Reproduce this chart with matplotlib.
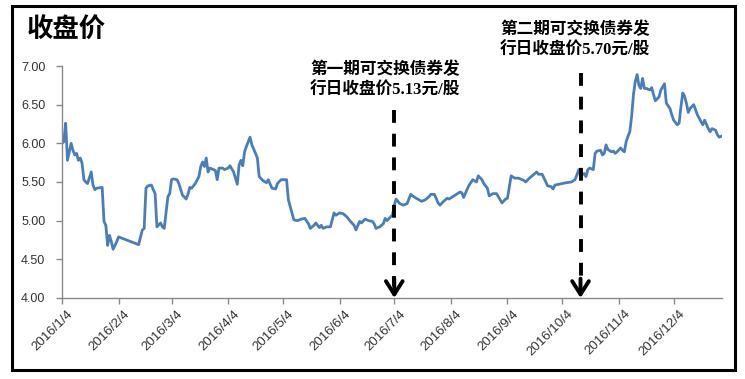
import matplotlib
matplotlib.use('Agg')
import matplotlib.pyplot as plt
import matplotlib.transforms as mtransforms
import pandas as pd
from matplotlib.patches import Rectangle
from matplotlib.ticker import FormatStrFormatter

# ---- data ----
dates = [
    '1/4', '1/5', '1/6', '1/7', '1/9', '1/10', '1/11', '1/12', '1/13', '1/14', '1/15', '1/16', '1/17', '1/18',
    '1/20', '1/21', '1/22', '1/23', '1/26', '1/27', '1/28', '1/29', '1/30', '1/31',
    '2/1', '2/3', '2/4', '2/15', '2/16', '2/17', '2/18', '2/19', '2/20', '2/22', '2/23', '2/24', '2/25',
    '2/27', '2/28', '2/29',
    '3/2', '3/3', '3/4', '3/5', '3/7', '3/8', '3/10', '3/12', '3/13', '3/14', '3/15', '3/17', '3/19', '3/20',
    '3/21', '3/22', '3/23', '3/24', '3/25', '3/27', '3/28', '3/29', '3/30',
    '4/1', '4/2', '4/4', '4/5', '4/7', '4/9', '4/10', '4/11', '4/12', '4/13', '4/14', '4/16', '4/17', '4/19',
    '4/20', '4/21', '4/23', '4/25', '4/26', '4/28', '4/30',
    '5/1', '5/3', '5/6', '5/7', '5/10', '5/12', '5/14', '5/16', '5/18', '5/19', '5/21', '5/22', '5/24',
    '5/25', '5/26', '5/28', '5/30',
    '6/1', '6/2', '6/4', '6/6', '6/8', '6/10', '6/12', '6/13', '6/15', '6/16', '6/18', '6/20', '6/22',
    '6/23', '6/24', '6/26', '6/28', '6/29', '6/30',
    '7/2', '7/3', '7/4', '7/5', '7/7', '7/9', '7/11', '7/13', '7/14', '7/16', '7/19', '7/21', '7/23',
    '7/24', '7/26', '7/28', '7/29', '7/31',
    '8/2', '8/3', '8/5', '8/7', '8/9', '8/10', '8/11', '8/13', '8/14', '8/16', '8/18', '8/19', '8/21',
    '8/22', '8/24', '8/25', '8/27', '8/29', '8/30',
    '9/1', '9/3', '9/4', '9/6', '9/8', '9/10', '9/13', '9/14', '9/16', '9/18', '9/20', '9/21', '9/23',
    '9/25', '9/26', '9/28', '9/29', '9/30',
    '10/2', '10/6', '10/9', '10/11', '10/12', '10/13', '10/14', '10/16', '10/17', '10/18', '10/19',
    '10/21', '10/22', '10/23', '10/25', '10/26', '10/27', '10/28', '10/29', '10/31',
    '11/1', '11/2', '11/3', '11/5', '11/6', '11/7', '11/8', '11/9', '11/10', '11/11', '11/12', '11/13',
    '11/14', '11/15', '11/16', '11/17', '11/18', '11/19', '11/21', '11/22', '11/23', '11/24', '11/26',
    '11/27', '11/29', '11/30',
    '12/2', '12/3', '12/4', '12/6', '12/7', '12/8', '12/9', '12/10', '12/11', '12/12', '12/13', '12/15',
    '12/17', '12/19', '12/20', '12/21', '12/23', '12/24', '12/25', '12/27', '12/28', '12/29', '12/30',
]
close = [
    6.00, 6.02, 6.26, 5.78, 6.00, 5.91, 5.85, 5.87, 5.78, 5.81, 5.74, 5.53, 5.50, 5.48,
    5.63, 5.46, 5.40, 5.42, 5.43, 4.99, 4.94, 4.68, 4.81, 4.73,
    4.63, 4.73, 4.79, 4.69, 4.79, 4.88, 4.90, 5.42, 5.45, 5.46, 5.40, 5.35, 4.92,
    4.97, 4.92, 4.90,
    5.31, 5.35, 5.53, 5.54, 5.53, 5.48, 5.33, 5.28, 5.34, 5.43, 5.42, 5.48, 5.57, 5.70,
    5.76, 5.70, 5.81, 5.63, 5.68, 5.66, 5.65, 5.53, 5.68,
    5.68, 5.66, 5.68, 5.71, 5.63, 5.47, 5.72, 5.78, 5.71, 5.89, 5.96, 6.08, 5.98, 5.87,
    5.81, 5.57, 5.52, 5.49, 5.53, 5.42, 5.41,
    5.48, 5.53, 5.53, 5.27, 5.01, 5.00, 5.02, 5.03, 4.96, 4.90, 4.94, 4.97, 4.91,
    4.94, 4.90, 4.92, 4.92,
    5.10, 5.07, 5.10, 5.09, 5.05, 4.99, 4.94, 4.88, 4.99, 4.97, 5.02, 5.00, 4.99,
    4.96, 4.90, 4.92, 4.96, 5.03, 5.00,
    5.05, 5.07, 5.20, 5.28, 5.22, 5.20, 5.22, 5.34, 5.32, 5.29, 5.25, 5.27, 5.31,
    5.34, 5.34, 5.23, 5.20, 5.25,
    5.29, 5.28, 5.31, 5.34, 5.37, 5.36, 5.30, 5.41, 5.46, 5.53, 5.50, 5.58, 5.53,
    5.48, 5.42, 5.32, 5.35, 5.35, 5.31,
    5.23, 5.28, 5.29, 5.58, 5.55, 5.55, 5.52, 5.50, 5.55, 5.59, 5.63, 5.60, 5.60,
    5.50, 5.45, 5.44, 5.41, 5.46,
    5.47, 5.49, 5.50, 5.53, 5.59, 5.66, 5.58, 5.61, 5.57, 5.66, 5.68,
    5.66, 5.87, 5.90, 5.91, 5.85, 5.87, 5.98, 5.92, 5.89,
    5.90, 5.87, 5.89, 5.94, 5.91, 5.89, 6.02, 6.09, 6.15, 6.35, 6.63, 6.80,
    6.89, 6.75, 6.71, 6.84, 6.71, 6.71, 6.69, 6.72, 6.63, 6.55, 6.60,
    6.69, 6.77, 6.52,
    6.45, 6.37, 6.30, 6.24, 6.26, 6.47, 6.65, 6.61, 6.52, 6.40, 6.45, 6.50,
    6.37, 6.28, 6.24, 6.30, 6.19, 6.15, 6.19, 6.17, 6.11, 6.08, 6.09,
]
tick_labels = ['2016/1/4', '2016/2/4', '2016/3/4', '2016/4/4', '2016/5/4', '2016/6/4',
               '2016/7/4', '2016/8/4', '2016/9/4', '2016/10/4', '2016/11/4', '2016/12/4']
y_ticks = [4.00, 4.50, 5.00, 5.50, 6.00, 6.50, 7.00]
event_dates = ['2016/7/4', '2016/10/14']
event_tops = [6.43, 6.91]
event_texts = ['第一期可交换债券发\n行日收盘价5.13元/股',
               '第二期可交换债券发\n行日收盘价5.70元/股']
title_text = '收盘价'

# ---- figure ----
W, H = 745, 379
fig = plt.figure(figsize=(W / 100, H / 100), dpi=100)
fig.patch.set_facecolor('white')

ax = fig.add_axes([62 / W, (H - 298) / H, 660 / W, 232 / H])
x = pd.to_datetime(['2016/' + d for d in dates], format='%Y/%m/%d')
ax.plot(x, close, color='#4A7EBB', lw=2.0, solid_joinstyle='round', zorder=2)

ax.set_ylim(4.0, 7.0)
ax.set_yticks(y_ticks)
ax.yaxis.set_major_formatter(FormatStrFormatter('%.2f'))
ax.set_xlim(pd.Timestamp('2016-01-04'), pd.Timestamp('2016-12-30 12:00'))
ax.set_xticks(pd.to_datetime(tick_labels, format='%Y/%m/%d'))
ax.set_xticklabels(tick_labels, rotation=45, ha='right', rotation_mode='anchor')

for s in ['top', 'right']:
    ax.spines[s].set_visible(False)
for s in ['left', 'bottom']:
    ax.spines[s].set_color('#898989')
    ax.spines[s].set_linewidth(1.0)
ax.tick_params(axis='both', colors='#898989', length=4, width=1.0, direction='out')
ax.tick_params(axis='y', labelcolor='#333333', labelsize=9, pad=8)
ax.tick_params(axis='x', labelcolor='#333333', labelsize=9.5, pad=3)
shift = mtransforms.ScaledTranslation(5 / 100, 0, fig.dpi_scale_trans)
for lab in ax.get_xticklabels():
    lab.set_family(['Liberation Sans', 'DejaVu Sans'])
    lab.set_transform(lab.get_transform() + shift)
for lab in ax.get_yticklabels():
    lab.set_family(['Liberation Sans', 'DejaVu Sans'])

# event arrows
for d, top in zip(event_dates, event_tops):
    xd = pd.to_datetime(d, format='%Y/%m/%d')
    ax.plot([xd, xd], [top, 4.16], color='black', lw=2.8, linestyle=(0, (3.3, 2.8)),
            solid_capstyle='butt', dash_capstyle='butt', zorder=3, clip_on=False)
    ax.annotate('', xy=(xd, 4.0), xytext=(xd, 4.25),
                arrowprops=dict(arrowstyle='->,head_length=0.95,head_width=0.6',
                                color='black', lw=2.8, shrinkA=0, shrinkB=0),
                zorder=3, annotation_clip=False)

cjk = ['Liberation Serif', 'Noto Sans CJK SC']
fig.text(310 / W, 1 - 62 / H, event_texts[0], family=cjk, fontsize=12, weight='bold',
         va='top', ha='left', linespacing=1.3, color='black')
fig.text(500 / W, 1 - 22 / H, event_texts[1], family=cjk, fontsize=12, weight='bold',
         va='top', ha='left', linespacing=1.3, color='black')

fig.text(27 / W, 1 - 30 / H, title_text, family=['Noto Sans CJK SC', 'DejaVu Sans'],
         fontsize=19, weight='bold', va='center', ha='left', color='black')

# outer frame
fig.patches.append(Rectangle((11.5 / W, (H - 370) / H), (735.5 - 11.5) / W, (370 - 5.5) / H,
                             transform=fig.transFigure, fill=False, edgecolor='black', lw=2.2))

fig.savefig('out.png', dpi=100, facecolor='white')
